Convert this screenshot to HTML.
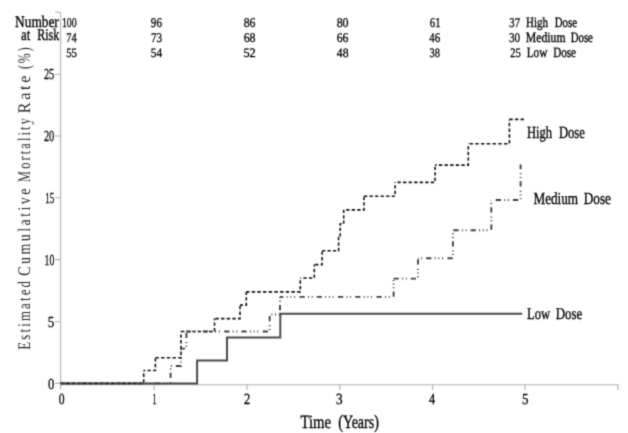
<!DOCTYPE html>
<html><head><meta charset="utf-8">
<style>
html,body{margin:0;padding:0;background:#fff;}
svg{display:block;}
text{text-rendering:geometricPrecision;font-family:"Liberation Serif",serif;fill:#000;stroke:#000;stroke-width:0.35;}
</style></head>
<body>
<svg width="628" height="433" viewBox="0 0 628 433">
<defs><filter id="bl" x="0" y="0" width="628" height="433" filterUnits="userSpaceOnUse" color-interpolation-filters="sRGB"><feConvolveMatrix order="3" kernelMatrix="0.0622 0.2494 0.0622 0.2494 1 0.2494 0.0622 0.2494 0.0622" divisor="2.2461" edgeMode="none"/></filter></defs>
<rect width="628" height="433" fill="#fff"/>
<g filter="url(#bl)">
<g stroke="#b0b0b0" stroke-width="1.1" fill="none">
<path d="M60.6 12 V389.5"/>
<path d="M60.6 384.8 H618.5"/>
<path d="M55 12.3 H60.6 M55 74.2 H60.6 M55 136 H60.6 M55 197.8 H60.6 M55 259.6 H60.6 M55 321.7 H60.6 M55 383.4 H60.6"/>
<path d="M154.1 384.8 V390 M247 384.8 V390 M339.8 384.8 V390 M432.5 384.8 V390 M525 384.8 V390 M618 384.8 V390"/>
</g>
<g fill="none" stroke="#484848" stroke-width="1.95">
<path d="M60.6 383.4 H197.1 V360.5 H227 V337.55 H280.3 V313.8 H522.2"/>
<g stroke="#111" stroke-width="1.6">
<path stroke-dasharray="3.36 2.24" stroke-dashoffset="0" d="M60.6 383.4 H143.7 V370.5"/>
<path stroke-dasharray="3.36 2.24" stroke-dashoffset="1.8" d="M143.7 370.5 H155.4 V357.8"/>
<path stroke-dasharray="3.42 2.28" stroke-dashoffset="0" d="M155.4 357.8 H181.0 V331.5"/>
<path stroke-dasharray="3.36 2.24" stroke-dashoffset="0" d="M181.0 331.5 H214.5 V318.6"/>
<path stroke-dasharray="3.39 2.26" stroke-dashoffset="4.75" d="M214.5 318.6 H240.0 V305.1"/>
<path stroke-dasharray="3.36 2.24" stroke-dashoffset="0.4" d="M240.0 305.1 H246.3 V291.9"/>
<path stroke-dasharray="3.41 2.27" stroke-dashoffset="0.3" d="M246.3 291.9 H300.3 V278.0"/>
<path stroke-dasharray="3.36 2.24" stroke-dashoffset="2.6" d="M300.3 278.0 H314.3 V264.6"/>
<path stroke-dasharray="3.36 2.24" stroke-dashoffset="4.8" d="M314.3 264.6 H322.1 V250.8"/>
<path stroke-dasharray="3.24 2.16" stroke-dashoffset="0" d="M322.1 250.8 H338.6 V237.6 H340.2 V223.8 H343.7 V209.9"/>
<path stroke-dasharray="3.32 2.22" stroke-dashoffset="3.04" d="M343.7 209.9 H364.0 V196.2"/>
<path stroke-dasharray="3.32 2.22" stroke-dashoffset="0" d="M364.0 196.2 H395.1 V182.35"/>
<path stroke-dasharray="3.33 2.22" stroke-dashoffset="3.15" d="M395.1 182.35 H435.1 V165.1"/>
<path stroke-dasharray="3.37 2.25" stroke-dashoffset="1.82" d="M435.1 165.1 H468.3 V143.8"/>
<path stroke-dasharray="3.45 2.30" stroke-dashoffset="4.55" d="M468.3 143.8 H509.4 V119.4"/>
<path stroke-dasharray="3.36 2.24" stroke-dashoffset="0" d="M509.4 119.4 H524.3"/>
</g>
<g stroke="#404040" stroke-width="1.9" stroke-dasharray="5.2 3.3 1 2.7 1 4.0 5.2 3.3 1 2.7 1 2.7 1 4.4">
<path d="M60.6 383.4 H170.6 V366 H181 V348.6 H186.4 V331.5"/>
<path stroke-dashoffset="0.7" d="M186.4 331.5 H269.6 V314.5 H280 V296.9"/>
<path stroke-dashoffset="19" d="M280 296.9 H393.6 V278.6"/>
<path stroke-dashoffset="0" d="M393.6 278.6 H418 V258.2"/>
<path stroke-dashoffset="9" d="M418 258.2 H452.9 V230.3"/>
<path stroke-dashoffset="38" d="M452.9 230.3 H491.3 V200"/>
<path stroke-dashoffset="34.1" d="M491.3 200 H520.6 V164.5"/>
</g>
</g>
<text font-size="16.30" transform="translate(15.09,26.80) scale(0.8193,1)">Number</text>
<text font-size="16.30" transform="translate(21.10,40.00) scale(0.7867,1)">at</text>
<text font-size="16.30" transform="translate(37.21,40.00) scale(0.7420,1)">Risk</text>
<text style="stroke-width:0.3" font-size="13.47" transform="translate(61.93,27.00) scale(0.7314,1)">100</text>
<text style="stroke-width:0.3" font-size="13.32" transform="translate(66.26,41.80) scale(0.7736,1)">74</text>
<text style="stroke-width:0.3" font-size="12.87" transform="translate(66.20,56.60) scale(0.8341,1)">55</text>
<text style="stroke-width:0.3" font-size="13.47" transform="translate(150.85,27.00) scale(0.8256,1)">96</text>
<text style="stroke-width:0.3" font-size="13.32" transform="translate(151.00,41.80) scale(0.8449,1)">73</text>
<text style="stroke-width:0.3" font-size="12.87" transform="translate(150.77,56.60) scale(0.8782,1)">54</text>
<text style="stroke-width:0.3" font-size="13.47" transform="translate(243.63,27.00) scale(0.8724,1)">86</text>
<text style="stroke-width:0.3" font-size="13.32" transform="translate(243.63,41.80) scale(0.8968,1)">68</text>
<text style="stroke-width:0.3" font-size="12.87" transform="translate(243.42,56.60) scale(0.9599,1)">52</text>
<text style="stroke-width:0.3" font-size="13.47" transform="translate(336.63,27.00) scale(0.8869,1)">80</text>
<text style="stroke-width:0.3" font-size="13.32" transform="translate(336.63,41.80) scale(0.8821,1)">66</text>
<text style="stroke-width:0.3" font-size="12.87" transform="translate(336.82,56.60) scale(0.9127,1)">48</text>
<text style="stroke-width:0.3" font-size="13.47" transform="translate(429.86,27.00) scale(0.7973,1)">61</text>
<text style="stroke-width:0.3" font-size="13.32" transform="translate(429.33,41.80) scale(0.8214,1)">46</text>
<text style="stroke-width:0.3" font-size="12.87" transform="translate(429.51,56.60) scale(0.8089,1)">38</text>
<text style="stroke-width:0.3" font-size="13.47" transform="translate(509.30,27.00) scale(0.7919,1)">37</text>
<text style="stroke-width:0.3" font-size="13.32" transform="translate(508.98,41.80) scale(0.8387,1)">30</text>
<text style="stroke-width:0.3" font-size="12.87" transform="translate(510.27,56.60) scale(0.8285,1)">25</text>
<text font-size="14.17" transform="translate(526.03,27.00) scale(0.7788,1)">High</text>
<text font-size="14.17" transform="translate(554.73,27.00) scale(0.7694,1)">Dose</text>
<text font-size="14.17" transform="translate(525.72,41.60) scale(0.8314,1)">Medium</text>
<text font-size="14.17" transform="translate(570.63,41.60) scale(0.7659,1)">Dose</text>
<text font-size="14.32" transform="translate(526.72,56.60) scale(0.7890,1)">Low</text>
<text font-size="14.32" transform="translate(553.23,56.60) scale(0.7751,1)">Dose</text>
<text font-size="17.07" transform="translate(526.90,137.50) scale(0.7352,1)">High</text>
<text font-size="17.07" transform="translate(558.90,137.50) scale(0.7406,1)">Dose</text>
<text font-size="16.91" transform="translate(533.39,204.40) scale(0.7811,1)">Medium</text>
<text font-size="16.91" transform="translate(583.79,204.40) scale(0.7824,1)">Dose</text>
<text font-size="16.61" transform="translate(527.00,319.30) scale(0.7601,1)">Low</text>
<text font-size="16.61" transform="translate(555.70,319.30) scale(0.7759,1)">Dose</text>
<text font-size="18.74" transform="translate(300.47,428.10) scale(0.7882,1)">Time</text>
<text font-size="18.74" transform="translate(338.26,428.10) scale(0.7483,1)">(Years)</text>
<text style="stroke-width:0.3" font-size="15.33" transform="translate(48.01,388.60) scale(0.8200,1)">0</text>
<text style="stroke-width:0.3" font-size="15.33" transform="translate(47.79,326.90) scale(0.8504,1)">5</text>
<text style="stroke-width:0.3" font-size="15.33" transform="translate(44.55,264.80) scale(0.6299,1)">10</text>
<text style="stroke-width:0.3" font-size="15.33" transform="translate(45.31,203.20) scale(0.5786,1)">15</text>
<text style="stroke-width:0.3" font-size="15.33" transform="translate(43.88,141.20) scale(0.6749,1)">20</text>
<text style="stroke-width:0.3" font-size="15.33" transform="translate(43.88,79.40) scale(0.6749,1)">25</text>
<text style="stroke-width:0.3" font-size="15.48" transform="translate(58.64,404.40) scale(0.7531,1)">0</text>
<text style="stroke-width:0.3" font-size="15.48" transform="translate(152.47,404.40) scale(0.5168,1)">1</text>
<text style="stroke-width:0.3" font-size="15.48" transform="translate(243.91,404.40) scale(0.8116,1)">2</text>
<text style="stroke-width:0.3" font-size="15.48" transform="translate(335.98,404.40) scale(0.8575,1)">3</text>
<text style="stroke-width:0.3" font-size="15.48" transform="translate(429.01,404.40) scale(0.7994,1)">4</text>
<text style="stroke-width:0.3" font-size="15.48" transform="translate(521.89,404.40) scale(0.8422,1)">5</text>
<g transform="rotate(-90)"><text style="stroke-width:0;fill:#262626" font-size="17.68" letter-spacing="3.005" transform="translate(-349.80,30.20) scale(0.7263,1)">Estimated</text></g>
<g transform="rotate(-90)"><text style="stroke-width:0;fill:#262626" font-size="17.68" letter-spacing="3.005" transform="translate(-275.64,30.20) scale(0.7948,1)">Cumulative</text></g>
<g transform="rotate(-90)"><text style="stroke-width:0;fill:#262626" font-size="17.68" letter-spacing="3.005" transform="translate(-181.89,30.20) scale(0.7003,1)">Mortality</text></g>
<g transform="rotate(-90)"><text style="stroke-width:0;fill:#262626" font-size="17.68" letter-spacing="3.005" transform="translate(-113.25,30.20) scale(0.9081,1)">Rate</text></g>
<g transform="rotate(-90)"><text style="stroke-width:0;fill:#262626" font-size="17.68" letter-spacing="3.005" transform="translate(-69.07,30.20) scale(0.6674,1)">(%)</text></g>
</g>
</svg>
</body></html>
